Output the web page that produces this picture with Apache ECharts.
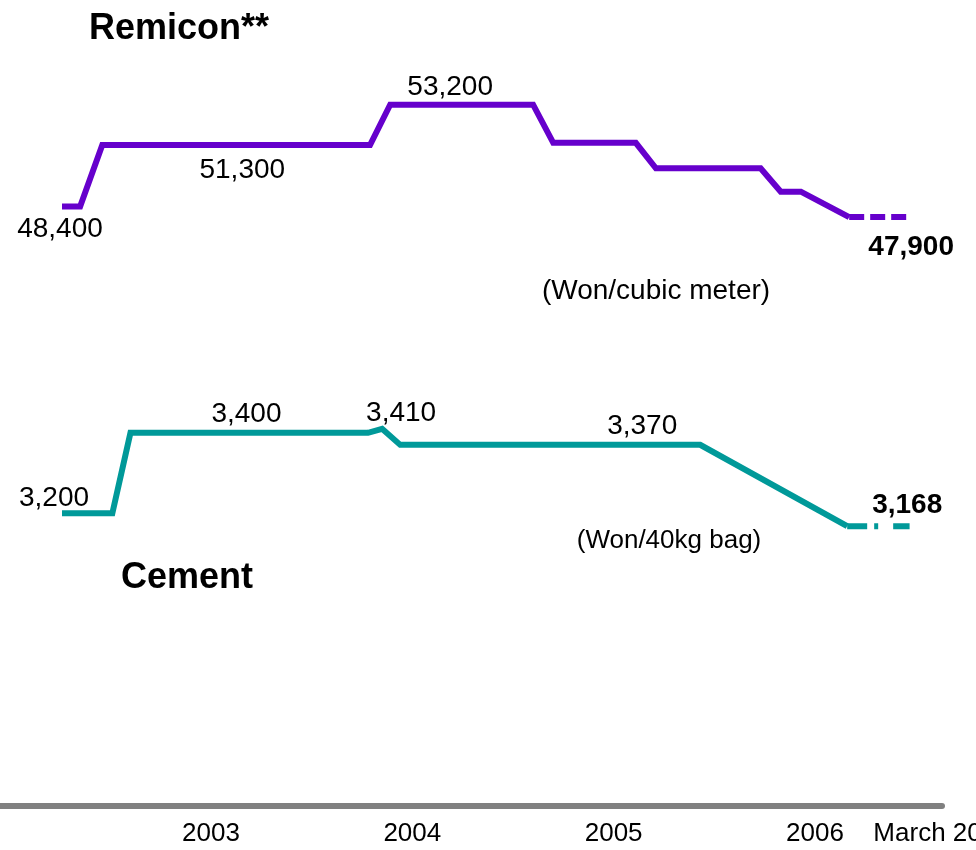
<!DOCTYPE html>
<html>
<head>
<meta charset="utf-8">
<script src="https://cdn.jsdelivr.net/npm/echarts@6/dist/echarts.min.js"></script>
<style>
  html, body { margin: 0; padding: 0; background: #fff; }
  #chart { width: 976px; height: 850px; }
</style>
</head>
<body>
<div id="chart"></div>
<script>
// x values are fractional years
const tickValues = [2003, 2004, 2005, 2006, 2006.631];
const tickLabels = ['2003', '2004', '2005', '2006', 'March 2006'];

const remiconDates = [2002.26, 2002.35, 2002.46, 2003.79, 2003.89, 2004.60, 2004.70, 2005.11, 2005.21, 2005.73, 2005.83, 2005.93, 2006.17];
const remiconPrices = [48400, 48400, 51300, 51300, 53200, 53200, 51400, 51400, 50200, 50200, 49100, 49100, 47900];
const remiconOutlookDates = [2006.17, 2006.46];
const remiconOutlookPrices = [47900, 47900];

const cementDates = [2002.26, 2002.51, 2002.60, 2003.78, 2003.85, 2003.94, 2005.43, 2006.16];
const cementPrices = [3200, 3200, 3400, 3400, 3410, 3370, 3370, 3168];
const cementOutlookDates = [2006.16, 2006.47];
const cementOutlookPrices = [3168, 3168];

const FONT = '"Liberation Sans", Arial, sans-serif';
const PURPLE = '#6600cc';
const TEAL = '#009999';

const zip = (xs, ys) => xs.map((x, i) => [x, ys[i]]);

// which points carry a value label, and where the text sits
function labelPoints(dates, prices, specs) {
  return specs.map(s => ({
    value: [dates[s.i], prices[s.i]],
    label: {
      offset: s.offset,
      fontWeight: s.bold ? 'bold' : 'normal'
    }
  }));
}

const remiconLabels = labelPoints(remiconDates, remiconPrices, [
  { i: 0, offset: [-2, 23] },
  { i: 2, offset: [140, 25] },
  { i: 4, offset: [60, -17] },
  { i: 12, offset: [62, 30], bold: true }
]);
const cementLabels = labelPoints(cementDates, cementPrices, [
  { i: 0, offset: [-8, -15] },
  { i: 2, offset: [116, -19] },
  { i: 4, offset: [19, -15] },
  { i: 5, offset: [242, -19] },
  { i: 7, offset: [60, -21], bold: true }
]);

const labelSeries = (data, yIndex) => ({
  type: 'scatter',
  yAxisIndex: yIndex,
  symbolSize: 1,
  itemStyle: { color: 'rgba(0,0,0,0)' },
  z: 5,
  label: {
    show: true,
    position: 'inside',
    align: 'center',
    verticalAlign: 'middle',
    fontSize: 28,
    fontFamily: FONT,
    color: '#000000',
    opacity: 1,
    textBorderWidth: 0,
    formatter: p => p.value[1].toLocaleString('en-US')
  },
  data: data
});

const lineSeries = (data, yIndex, color, type) => ({
  type: 'line',
  yAxisIndex: yIndex,
  symbol: 'none',
  lineStyle: { color: color, width: 6, type: type, cap: 'butt', join: 'miter' },
  data: data
});

const chart = echarts.init(document.getElementById('chart'));
chart.setOption({
  animation: false,
  grid: { left: 0, right: 34, top: 0, bottom: 44, outerBoundsMode: 'none', containLabel: false },
  xAxis: {
    type: 'value',
    min: 2001.952,
    max: 2006.631,
    splitLine: { show: false },
    axisTick: { show: false },
    axisLine: { lineStyle: { color: '#808080', width: 6 } },
    axisLabel: {
      customValues: tickValues,
      showMinLabel: true,
      showMaxLabel: true,
      hideOverlap: false,
      margin: 15,
      fontSize: 26,
      fontFamily: FONT,
      color: '#000',
      formatter: v => {
        let best = 0;
        tickValues.forEach((t, i) => {
          if (Math.abs(t - v) < Math.abs(tickValues[best] - v)) best = i;
        });
        return tickLabels[best];
      }
    }
  },
  yAxis: [
    { type: 'value', min: 20120, max: 58139, show: false },
    { type: 'value', min: 2473, max: 4475, show: false }
  ],
  series: [
    lineSeries(zip(remiconDates, remiconPrices), 0, PURPLE, 'solid'),
    lineSeries(zip(remiconOutlookDates, remiconOutlookPrices), 0, PURPLE, [15, 6]),
    lineSeries(zip(cementDates, cementPrices), 1, TEAL, 'solid'),
    lineSeries(zip(cementOutlookDates, cementOutlookPrices), 1, TEAL, [20, 7, 4, 15]),
    labelSeries(remiconLabels, 0),
    labelSeries(cementLabels, 1)
  ],
  graphic: [
    { type: 'text', left: 89, top: 11, style: { text: 'Remicon**', font: 'bold 36px ' + FONT, fill: '#000' } },
    { type: 'text', left: 121, top: 560, style: { text: 'Cement', font: 'bold 36px ' + FONT, fill: '#000' } },
    { type: 'text', x: 656, y: 291, style: { text: '(Won/cubic meter)', font: '28px ' + FONT, fill: '#000', textAlign: 'center', textVerticalAlign: 'middle' } },
    { type: 'text', x: 669, y: 541, style: { text: '(Won/40kg bag)', font: '26px ' + FONT, fill: '#000', textAlign: 'center', textVerticalAlign: 'middle' } }
  ]
});
</script>
</body>
</html>
